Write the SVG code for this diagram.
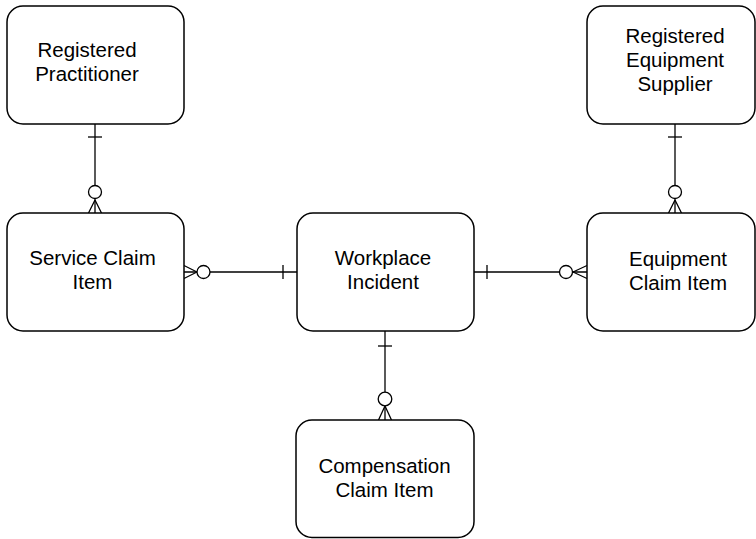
<svg xmlns="http://www.w3.org/2000/svg" width="756" height="539" viewBox="0 0 756 539">
  <style>
    .box { fill: #ffffff; stroke: #000000; stroke-width: 1.5; }
    .lbl { font-family: "Liberation Sans", Arial, Helvetica, sans-serif; font-size: 20.5px; fill: #000000; text-anchor: middle; }
    .ln { fill: none; stroke: #000000; stroke-width: 1.3; }
    .ring { fill: #ffffff; stroke: #000000; stroke-width: 1.3; }
  </style>
  <rect width="756" height="539" fill="#ffffff"/>

  <!-- relationships: one (tick) to zero-or-many (ring + crow's foot) -->
  <g id="connectors">
    <!-- Registered Practitioner - Service Claim Item -->
    <g id="c-practitioner-service">
      <line class="ln" x1="95" y1="124" x2="95" y2="213"/>
      <line class="ln" x1="88" y1="137" x2="102" y2="137"/>
      <path class="ln" d="M95,200 L88.5,213 M95,200 L101.5,213"/>
      <circle class="ring" cx="95" cy="192" r="6.5"/>
    </g>
    <!-- Registered Equipment Supplier - Equipment Claim Item -->
    <g id="c-supplier-equipment">
      <line class="ln" x1="675" y1="124" x2="675" y2="213"/>
      <line class="ln" x1="668" y1="137" x2="682" y2="137"/>
      <path class="ln" d="M675,200 L668.5,213 M675,200 L681.5,213"/>
      <circle class="ring" cx="675" cy="192" r="6.5"/>
    </g>
    <!-- Workplace Incident - Service Claim Item -->
    <g id="c-incident-service">
      <line class="ln" x1="184" y1="272" x2="297" y2="272"/>
      <line class="ln" x1="283" y1="265" x2="283" y2="279"/>
      <path class="ln" d="M197,272 L184,265.5 M197,272 L184,278.5"/>
      <circle class="ring" cx="203.5" cy="272" r="6.5"/>
    </g>
    <!-- Workplace Incident - Equipment Claim Item -->
    <g id="c-incident-equipment">
      <line class="ln" x1="474" y1="272" x2="587" y2="272"/>
      <line class="ln" x1="487" y1="265" x2="487" y2="279"/>
      <path class="ln" d="M573,272 L587,265.5 M573,272 L587,278.5"/>
      <circle class="ring" cx="566" cy="272" r="6.5"/>
    </g>
    <!-- Workplace Incident - Compensation Claim Item -->
    <g id="c-incident-compensation">
      <line class="ln" x1="385" y1="331" x2="385" y2="420"/>
      <line class="ln" x1="378" y1="346" x2="392" y2="346"/>
      <path class="ln" d="M385,406 L378.5,420 M385,406 L391.5,420"/>
      <circle class="ring" cx="385" cy="399" r="6.8"/>
    </g>
  </g>

  <g id="registered-practitioner">
    <rect class="box" x="7" y="6" width="177" height="118" rx="16" ry="16"/>
    <text class="lbl" x="87" y="57">Registered</text>
    <text class="lbl" x="87" y="81">Practitioner</text>
  </g>

  <g id="registered-equipment-supplier">
    <rect class="box" x="587" y="6" width="168" height="118" rx="16" ry="16"/>
    <text class="lbl" x="675" y="43">Registered</text>
    <text class="lbl" x="675" y="67">Equipment</text>
    <text class="lbl" x="675" y="91">Supplier</text>
  </g>

  <g id="service-claim-item">
    <rect class="box" x="7" y="213" width="177" height="118" rx="16" ry="16"/>
    <text class="lbl" x="92.5" y="265">Service Claim</text>
    <text class="lbl" x="92.5" y="289">Item</text>
  </g>

  <g id="workplace-incident">
    <rect class="box" x="297" y="213" width="177" height="118" rx="16" ry="16"/>
    <text class="lbl" x="383" y="265">Workplace</text>
    <text class="lbl" x="383" y="289">Incident</text>
  </g>

  <g id="equipment-claim-item">
    <rect class="box" x="587" y="213" width="168" height="118" rx="16" ry="16"/>
    <text class="lbl" x="678" y="266">Equipment</text>
    <text class="lbl" x="678" y="290">Claim Item</text>
  </g>

  <g id="compensation-claim-item">
    <rect class="box" x="296" y="420" width="178" height="117.5" rx="16" ry="16"/>
    <text class="lbl" x="384.5" y="473">Compensation</text>
    <text class="lbl" x="384.5" y="497">Claim Item</text>
  </g>
</svg>
